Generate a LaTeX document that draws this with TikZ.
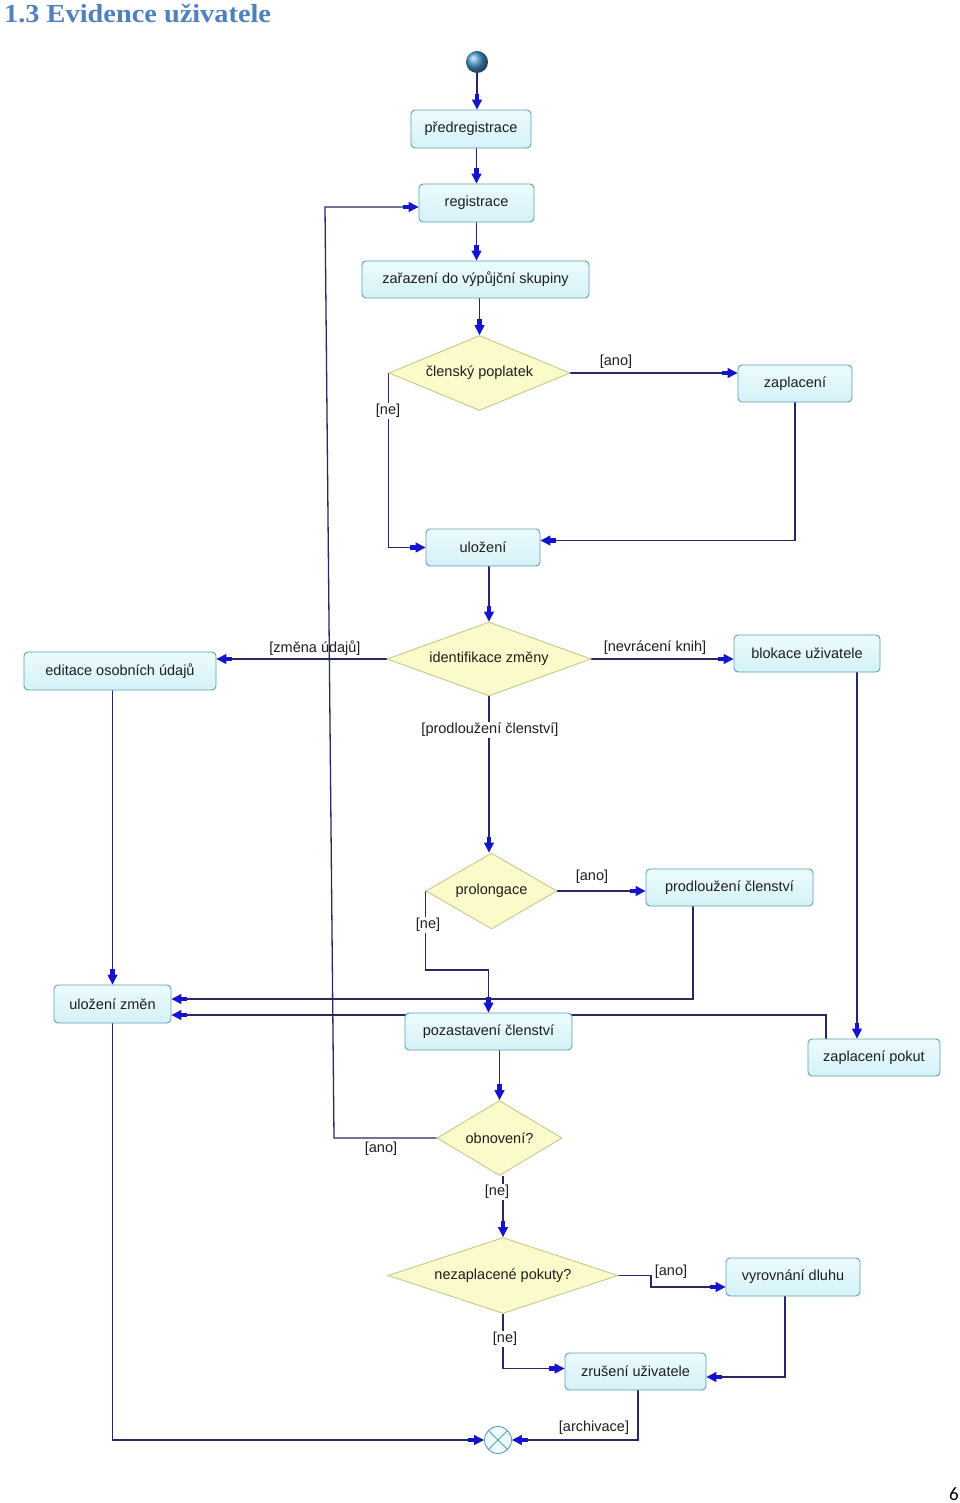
\documentclass[tikz,border=0pt]{standalone}
\usepackage{fontspec}
\setmainfont{Liberation Sans}
\newfontfamily\titlefont{Liberation Serif}
\newfontfamily\pagefont{Carlito}
\usetikzlibrary{shapes.geometric,arrows.meta,calc}
\definecolor{linecol}{RGB}{40,40,100}
\definecolor{arrcol}{RGB}{20,20,205}
\definecolor{boxdraw}{RGB}{95,160,175}
\definecolor{boxtop}{RGB}{236,251,253}
\definecolor{boxbot}{RGB}{212,242,247}
\definecolor{diafill}{RGB}{250,250,202}
\definecolor{diadraw}{RGB}{200,200,140}
\definecolor{titlecol}{RGB}{79,129,189}
\definecolor{startcol}{RGB}{70,150,200}
\definecolor{txtcol}{RGB}{30,30,30}
\pgfdeclarelayer{bg}
\pgfsetlayers{bg,main}
\begin{document}
\begin{tikzpicture}[x=1pt,y=-1pt,
  box/.style={rectangle,rounded corners=4pt,draw=boxdraw,line width=0.9pt,top color=boxtop,bottom color=boxbot,text=txtcol,font=\fontsize{14.5}{16}\selectfont,inner sep=0pt},
  dia/.style={diamond,aspect=2.4,draw=diadraw,line width=0.9pt,fill=diafill,text=txtcol,font=\fontsize{14.5}{16}\selectfont,inner sep=0pt},
  lbl/.style={text=txtcol,font=\fontsize{14.5}{16}\selectfont,inner sep=1pt},
  lblw/.style={lbl,fill=white},
  conn/.style={draw=linecol,line width=1.3pt},
  arr/.style={conn,-{Rectangle[length=6pt,width=4.5pt,color=arrcol] Triangle[length=10pt,width=10pt,color=arrcol]}}
]
\useasboundingbox (0,0) rectangle (960,1503);

% title and page number
\node[anchor=base west,inner sep=0pt,text=titlecol,font=\titlefont\bfseries\fontsize{26}{30}\selectfont] (title) at (4,23) {\scalebox{1.09}[1]{1.3 Evidence uživatele}};
\node[anchor=base east,inner sep=0pt,font=\pagefont\fontsize{19}{22}\selectfont] (pagenum) at (959,1500) {6};

% start / end
\node[circle,minimum size=22pt,inner sep=0pt,shading=ball,ball color=startcol] (start) at (477,62) {};
\node[circle,minimum size=27pt,inner sep=0pt,draw=boxdraw,line width=0.9pt,fill=boxtop] (end) at (498,1440) {};
\draw[boxdraw,line width=0.9pt] (end.north west) -- (end.south east) (end.north east) -- (end.south west);

% boxes
\node[box,minimum width=120pt,minimum height=38pt] (pre) at (471,129) {předregistrace};
\node[box,minimum width=115pt,minimum height=38pt] (reg) at (476.5,203) {registrace};
\node[box,minimum width=227pt,minimum height=37pt] (zar) at (475.5,279.5) {zařazení do výpůjční skupiny};
\node[box,minimum width=114pt,minimum height=37pt] (zap) at (795,383.5) {zaplacení};
\node[box,minimum width=114pt,minimum height=37pt] (ulo) at (483,547.5) {uložení};
\node[box,minimum width=192pt,minimum height=38pt] (edi) at (120,671) {editace osobních údajů};
\node[box,minimum width=146pt,minimum height=37pt] (blo) at (807,653.5) {blokace uživatele};
\node[box,minimum width=167pt,minimum height=37pt] (pro) at (729.5,887.5) {prodloužení členství};
\node[box,minimum width=117pt,minimum height=38pt] (uz) at (112.5,1004) {uložení změn};
\node[box,minimum width=167pt,minimum height=37pt] (poz) at (488.5,1031.5) {pozastavení členství};
\node[box,minimum width=132pt,minimum height=37pt] (zpk) at (874,1057.5) {zaplacení pokut};
\node[box,minimum width=134pt,minimum height=38pt] (vyr) at (793,1277) {vyrovnání dluhu};
\node[box,minimum width=141pt,minimum height=37pt] (zru) at (635.5,1371.5) {zrušení uživatele};

% decisions
\node[dia,minimum width=181pt,minimum height=75pt] (memb) at (479.5,373) {členský poplatek};
\node[dia,minimum width=204pt,minimum height=74pt] (ident) at (489,659) {identifikace změny};
\node[dia,minimum width=131pt,minimum height=76pt] (prol) at (491.5,891) {prolongace};
\node[dia,minimum width=125pt,minimum height=75pt] (obn) at (499.5,1138) {obnovení?};
\node[dia,minimum width=230pt,minimum height=76pt] (nez) at (503,1275.5) {nezaplacené pokuty?};

% helper coordinates
\coordinate (l1) at (334,1138);
\coordinate (l2) at (325,207);
\coordinate (pk) at (460,970);
\coordinate (k1) at (651,1281);
\coordinate (b1) at ($(blo.south)+(50,0)$);
\coordinate (p1) at ($(pro.south)+(-36.5,0)$);
\coordinate (z1) at ($(zpk.north)+(-48,0)$);
\coordinate (v1) at ($(vyr.south)+(-8,0)$);
\coordinate (r1) at ($(zru.south)+(2.5,0)$);

\begin{pgfonlayer}{bg}
\fill[white] (0,0) rectangle (960,1503);
\draw[arr] (start.south) -- (start.south |- pre.north);
\draw[arr] (reg.north |- pre.south) -- (reg.north);
\draw[arr] (reg.south) -- (reg.south |- zar.north);
\draw[arr] (memb.north |- zar.south) -- (memb.north);
\draw[arr] (memb.east) -- (zap.west |- memb.east);
\draw[arr] (zap.south) |- ($(ulo.east)+(0,-7)$);
\draw[arr] (memb.west) |- (ulo.west);
\draw[arr] (ident.north |- ulo.south) -- (ident.north);
\draw[arr] (ident.west) -- (edi.east |- ident.west);
\draw[arr] (ident.east) -- (blo.west |- ident.east);
\draw[arr] (ident.south) -- (ident.south |- prol.north);
\draw[arr] (prol.east) -- (pro.west |- prol.east);
\draw[arr] (prol.west) |- (pk) -| (poz.north);
\draw[arr] (p1) |- ($(uz.east)+(0,-5)$);
\draw[arr] (b1) -- (b1 |- zpk.north);
\draw[arr] (z1) |- ($(uz.east)+(0,11)$);
\draw[arr] (obn.north |- poz.south) -- (obn.north);
\draw[arr] (obn.west) -- (l1) -- (l2) -- (reg.west |- l2);
\draw[arr] (nez.north |- obn.south) -- (nez.north);
\draw[arr] (nez.east) -| (k1) |- ($(vyr.west)+(0,10)$);
\draw[arr] (nez.south) |- ($(zru.west)+(0,-3)$);
\draw[arr] (v1) |- ($(zru.east)+(0,5.5)$);
\draw[arr] (r1) |- (end.east);
\draw[arr] (uz.north |- edi.south) -- (uz.north);
\draw[arr] (uz.south) |- (end.west);
\end{pgfonlayer}

% guard labels
\node[lbl] (g1) at (616,362) {[ano]};
\node[lblw] (g2) at (388,411) {[ne]};
\node[lbl] (g3) at (315,648) {[změna údajů]};
\node[lbl] (g4) at (655,648) {[nevrácení knih]};
\node[lblw] (g5) at (490,730) {[prodloužení členství]};
\node[lbl] (g6) at (592,877) {[ano]};
\node[lblw] (g7) at (428,925) {[ne]};
\node[lbl] (g8) at (381,1149) {[ano]};
\node[lblw] (g9) at (497,1192) {[ne]};
\node[lbl] (g10) at (671,1272) {[ano]};
\node[lblw] (g11) at (505,1339) {[ne]};
\node[lbl] (g12) at (594,1428) {[archivace]};
\end{tikzpicture}
\end{document}
